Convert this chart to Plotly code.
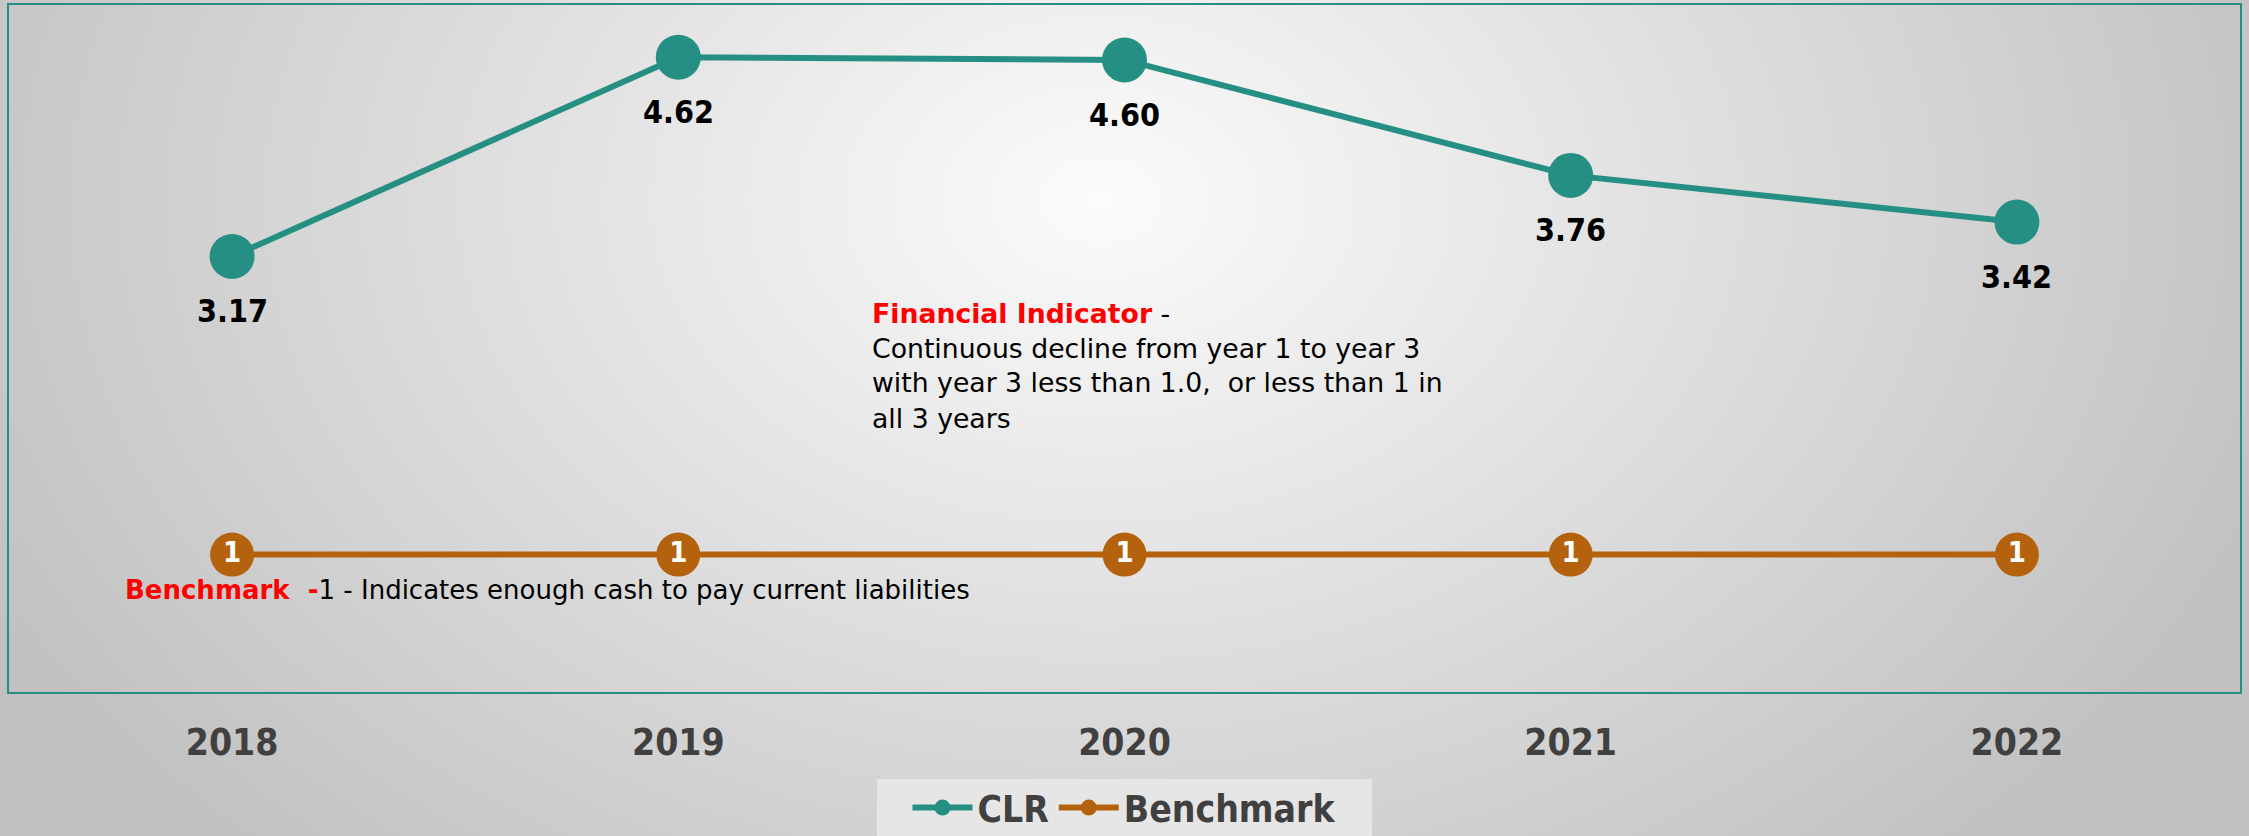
import base64
import plotly.graph_objects as go

# ---- data ----
years = ["2018", "2019", "2020", "2021", "2022"]
clr_values = [3.17, 4.62, 4.60, 3.76, 3.42]
clr_labels = ["3.17", "4.62", "4.60", "3.76", "3.42"]
benchmark_values = [1, 1, 1, 1, 1]
benchmark_labels = ["1", "1", "1", "1", "1"]

indicator_lines = [
    "<span style='color:#FF0000'><b>Financial Indicator</b></span> -",
    "Continuous decline from year 1 to year 3",
    "with year 3 less than 1.0,\u00a0 or less than 1 in",
    "all 3 years",
]
benchmark_note = ("<span style='color:#FF0000'><b>Benchmark\u00a0 -</b></span>"
                  "1 - Indicates enough cash to pay current liabilities")

TEAL = "#268F84"
BROWN = "#B5620F"
FONT_B = "DejaVu Sans Condensed, DejaVu Sans, sans-serif"
FONT_R = "DejaVu Sans, sans-serif"

W, H = 2249, 836
ML, MR, MT, MB = 9, 9, 5, 144
PW, PH = W - ML - MR, H - MT - MB


def px_x(p):
    return (p - ML) / PW


def px_y(p):
    return (MT + PH - p) / PH


fig = go.Figure()

fig.add_trace(go.Scatter(
    x=years, y=clr_values, name="CLR", mode="lines+markers",
    line=dict(color=TEAL, width=6),
    marker=dict(color=TEAL, size=45),
    hoverinfo="skip",
))
fig.add_trace(go.Scatter(
    x=years, y=benchmark_values, name="Benchmark", mode="lines+markers+text",
    line=dict(color=BROWN, width=6),
    marker=dict(color=BROWN, size=44),
    text=benchmark_labels, textposition="middle center",
    textfont=dict(family=FONT_B, size=29, color="white", weight="bold"),
    hoverinfo="skip",
))

# data labels under CLR points (category axis -> category index)
for i, (y, t) in enumerate(zip(clr_values, clr_labels)):
    fig.add_annotation(x=i, y=y, text=t, showarrow=False, yshift=-55,
                       xanchor="center", yanchor="middle",
                       font=dict(family=FONT_B, size=32, color="black", weight="bold"))

# Financial indicator note, one line per annotation (35 px line pitch)
for k, line in enumerate(indicator_lines):
    fig.add_annotation(
        xref="paper", yref="paper",
        x=px_x(870), y=px_y(313 + 35 * k),
        xanchor="left", yanchor="middle", align="left", showarrow=False,
        text=line,
        font=dict(family=FONT_R, size=26.7, color="black"),
    )

# Benchmark note
fig.add_annotation(
    xref="paper", yref="paper",
    x=px_x(123), y=px_y(590),
    xanchor="left", yanchor="middle", align="left", showarrow=False,
    text=benchmark_note,
    font=dict(family=FONT_R, size=26, color="black"),
)

# background gradient
svg = f"""<svg xmlns='http://www.w3.org/2000/svg' width='{W}' height='{H}' viewBox='0 0 {W} {H}' preserveAspectRatio='none'>
<defs><radialGradient id='g' gradientUnits='userSpaceOnUse' cx='0' cy='0' r='1'
 gradientTransform='translate(1100,200) scale(1250,900)'>
<stop offset='0' stop-color='#fbfbfb'/><stop offset='1' stop-color='#c1c1c1'/>
</radialGradient></defs>
<rect x='0' y='0' width='{W}' height='{H}' fill='url(#g)'/></svg>"""
src = "data:image/svg+xml;base64," + base64.b64encode(svg.encode()).decode()

fig.add_layout_image(dict(
    source=src, xref="paper", yref="paper",
    x=-ML / PW, y=1 + MT / PH, sizex=W / PW, sizey=H / PH,
    xanchor="left", yanchor="top", sizing="stretch", layer="below",
))

# legend background panel
fig.add_shape(type="rect", xref="paper", yref="paper",
              x0=px_x(877), x1=px_x(1372), y0=px_y(840), y1=px_y(779),
              fillcolor="#e6e6e6", line=dict(width=0), layer="below")

fig.update_layout(
    width=W, height=H,
    margin=dict(l=ML, r=MR, t=MT, b=MB, autoexpand=False),
    paper_bgcolor="#d8d8d8",
    plot_bgcolor="rgba(0,0,0,0)",
    showlegend=True,
    legend=dict(
        orientation="h", x=px_x(1124), xanchor="center",
        y=px_y(808), yanchor="middle",
        bgcolor="rgba(0,0,0,0)",
        font=dict(family=FONT_B, size=37, color="#404040", weight="bold"),
        itemwidth=60, tracegroupgap=0,
    ),
    xaxis=dict(
        type="category", range=[-0.5, 4.5],
        showline=True, mirror=True, linecolor=TEAL, linewidth=2,
        showgrid=False, zeroline=False, ticks="",
        tickfont=dict(family=FONT_B, size=37, color="#404040", weight="bold"),
        ticklabelstandoff=17,
    ),
    yaxis=dict(
        range=[0, 5], showline=True, mirror=True, linecolor=TEAL, linewidth=2,
        showgrid=False, zeroline=False, showticklabels=False, ticks="",
    ),
)

fig.write_html("out.html",
               config={"displayModeBar": False},
               post_script="document.body.style.margin='0';document.body.style.overflow='hidden';")
